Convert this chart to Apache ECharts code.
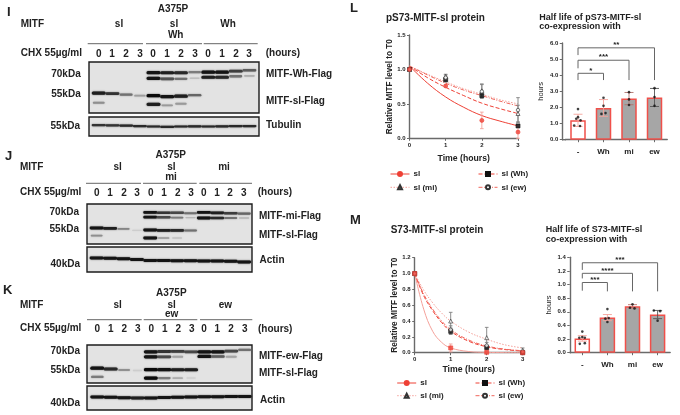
<!DOCTYPE html>
<html><head><meta charset="utf-8">
<style>html,body{margin:0;padding:0;background:#fff}#c{width:680px;height:415px}</style>
<script src="https://cdn.jsdelivr.net/npm/echarts@6/dist/echarts.min.js"></script>
</head><body><div id="c"></div>
<script>
// ---------- data: decay curves (hours, relative level) ----------
const seriesNames = ['sl', 'sl (Wh)', 'sl (mi)', 'sl (ew)'];
const timeTicks = [0, 1, 2, 3];
const curveTimes = [0, 0.5, 1, 1.5, 2, 2.5, 3];
const Lcurve_sl = [1.05, 0.80, 0.60, 0.45, 0.33, 0.25, 0.18];
const Lcurve_Wh = [1.05, 0.88, 0.74, 0.62, 0.51, 0.43, 0.36];
const Lcurve_mi = [1.05, 0.93, 0.82, 0.72, 0.64, 0.56, 0.50];
const Lcurve_ew = [1.05, 0.92, 0.80, 0.70, 0.62, 0.54, 0.47];
const Lpts_sl = [1.0, 0.76, 0.26, 0.09];
const Lpts_Wh = [1.0, 0.85, 0.62, 0.18];
const Lpts_mi = [1.0, 0.90, 0.69, 0.36];
const Lpts_ew = [1.0, 0.88, 0.68, 0.41];
const Lerr_sl = [0, 0.02, 0.12, 0.09];
const Lerr_Wh = [0, 0.03, 0.02, 0.02];
const Lerr_mi = [0, 0.03, 0.10, 0.12];
const Lerr_ew = [0, 0.04, 0.10, 0.18];

const Mtimes = [0, 0.25, 0.5, 0.75, 1, 1.5, 2, 2.5, 3];
const Mcurve_sl = [1, 0.55, 0.27, 0.13, 0.06, 0.015, 0.004, 0.001, 0];
const Mcurve_Wh = [1, 0.72, 0.53, 0.38, 0.27, 0.145, 0.075, 0.04, 0.02];
const Mcurve_mi = [1, 0.79, 0.63, 0.50, 0.40, 0.26, 0.17, 0.10, 0.06];
const Mcurve_ew = [1, 0.74, 0.55, 0.40, 0.29, 0.16, 0.085, 0.045, 0.025];
const Mpts_sl = [1.0, 0.06, 0.005, 0];
const Mpts_Wh = [1.0, 0.27, 0.065, 0];
const Mpts_mi = [1.0, 0.40, 0.19, 0.03];
const Mpts_ew = [1.0, 0.29, 0.09, 0.01];
const Merr_sl = [0, 0.05, 0.01, 0];
const Merr_Wh = [0, 0.04, 0.03, 0.01];
const Merr_mi = [0, 0.11, 0.13, 0.03];
const Merr_ew = [0, 0.05, 0.04, 0.02];

// ---------- data: half-life bars ----------
const barCats = ['-', 'Wh', 'mi', 'ew'];
const Lhalf = [1.2, 1.97, 2.55, 2.62];
const LhalfErr = [0.38, 0.52, 0.38, 0.56];
const LhalfDots = [[0,1.9],[0,1.4],[-0.07,1.3],[0.1,1.2],[-0.15,0.88],[0.08,0.85],[1,2.6],[1,2.1],[0.92,1.6],[1.08,1.65],[2,2.95],[2,2.5],[2,2.15],[3,3.2],[3,2.65],[3,2.1]];
const Mhalf = [0.21, 0.515, 0.68, 0.56];
const MhalfErr = [0.04, 0.045, 0.025, 0.06];
const MhalfDots = [[0,0.31],[0,0.23],[-0.12,0.22],[0.1,0.22],[0.1,0.14],[-0.1,0.13],[1,0.64],[1.05,0.51],[0.92,0.5],[1,0.45],[2,0.71],[1.9,0.66],[2.08,0.65],[2.85,0.62],[3.1,0.61],[3,0.47]];
const LerrColors = ['#f4a19a', '#f4a19a', '#b0706a', '#555'];
const MerrColors = ['#f4a19a', '#f4a19a', '#c0706a', '#555'];
// [target category, bracket top, left foot, right foot, stars]
const Lbrackets = [[1, 4.12, 3.7, 3.7, '*'], [2, 4.93, 4.43, 3.7, '***'], [3, 5.7, 5.25, 3.7, '**']];
const Mbrackets = [[1, 1.03, 0.91, 0.9, '***'], [2, 1.165, 1.09, 0.9, '****'], [3, 1.32, 1.215, 0.9, '***']];

// ---------- data: blot bands. Each row: migration (% of panel height) and strength per lane ----------
const laneHours = [0, 1, 2, 3, 0, 1, 2, 3, 0, 1, 2, 3];
const Iupper_mig = [20,20,20,20,21,21,21,20,20,20,18,16];
const Iupper = [0,0,0,0,.95,.9,.85,.45,.95,.95,.75,.6];
const Ilower_mig = [32,32,32,32,32,33,33,32,30,30,28,27];
const Ilower = [0,0,0,0,.95,.65,.5,.12,.9,.85,.5,.2];
const Isl_mig = [61,62,64,66,66,68,67,65,0,0,0,0];
const Isl = [.9,.8,.5,.28,1,.95,.9,.55,0,0,0,0];
const Isl2_mig = [80,80,80,80,83,85,82,82,0,0,0,0];
const Isl2 = [.35,0,0,0,.9,.3,.3,0,0,0,0,0];
const Itub_mig = [43,44,45,48,50,52,50,49,50,49,48,48];
const Itub = [.8,.8,.85,.85,.85,.85,.85,.85,.85,.85,.85,.85];

const Jupper_mig = [21,21,21,21,21,22,22,23,21,22,23,24];
const Jupper = [0,0,0,0,.95,.8,.7,.5,.95,.9,.75,.55];
const Jlower_mig = [33,33,33,33,33,33,34,34,35,35,35,35];
const Jlower = [0,0,0,0,.95,.7,.45,.15,.95,.85,.5,.15];
const Jsl_mig = [60,61,62,66,65,66,66,66,0,0,0,0];
const Jsl = [.95,.9,.4,.05,.95,.9,.85,.5,0,0,0,0];
const Jsl2_mig = [79,80,80,80,85,85,85,85,0,0,0,0];
const Jsl2 = [.35,0,0,0,.95,.3,.1,0,0,0,0,0];
const Jactin_mig = [44,45,47,50,54,54,55,55,56,56,57,60];
const Jactin = [.95,.95,.95,.95,.95,.95,.95,.95,.95,.95,.95,.95];

const Kupper_mig = [18,18,18,18,18,17,17,18,18,18,16,13];
const Kupper = [0,0,0,0,.95,.8,.75,.7,.95,.95,.7,.5];
const Klower_mig = [31,31,31,31,31,31,31,31,30,30,31,31];
const Klower = [0,0,0,0,.95,.7,.25,0,.95,.6,.25,0];
const Ksl_mig = [61,63,66,67,65,65,65,65,0,0,0,0];
const Ksl = [.95,.85,.35,.05,1,.95,.9,.9,0,0,0,0];
const Ksl2_mig = [84,84,84,84,87,87,87,87,0,0,0,0];
const Ksl2 = [.45,0,0,0,1,.45,.2,.03,0,0,0,0];
const Kactin_mig = [46,47,49,50,50,48,47,46,45,45,44,44];
const Kactin = [.95,.95,.95,.9,.95,.95,.95,.95,.95,.95,.95,.95];

// ---------- styles ----------
const FONT = '"Liberation Sans", Arial, sans-serif';
const RED = '#ee4035', LRED = '#f4a19a', INK = '#222', AX = '#6a6a6a';
const styleBySeries = [
  {type: 'solid', sym: 'circle', fill: RED, symC: RED, size: 4},
  {type: [4, 2], sym: 'rect', fill: '#111', symC: '#111', size: 4},
  {type: [1.5, 1.5], sym: 'triangle', fill: '#fff', symC: '#333', size: 4},
  {type: [4, 1.5, 1, 1.5], sym: 'circle', fill: '#fff', symC: '#333', size: 3.5}
];
const LlineColors = [RED, RED, LRED, '#f0665c'];
const MlineColors = [LRED, RED, LRED, '#f0665c'];
const grid = [], xAxis = [], yAxis = [], series = [], legend = [], graphic = [];

function T(text, x, y, o) {
  o = o || {};
  graphic.push({type: 'text', x, y, rotation: o.rot || 0, silent: true, style: {
    text, fill: o.fill || INK, align: o.align || 'left', verticalAlign: 'middle',
    font: (o.weight || 'bold') + ' ' + (o.size || 10) + 'px ' + FONT}});
}
function L(x1, y, x2) {
  graphic.push({type: 'line', silent: true, shape: {x1, y1: y, x2, y2: y}, style: {stroke: '#666', lineWidth: 1}});
}
const axisCommon = {
  axisLine: {show: true, onZero: false, lineStyle: {color: AX, width: 1.4}},
  axisTick: {show: true, length: 2.5, lineStyle: {color: AX, width: 1}},
  splitLine: {show: false}
};

function errorSeries(gi, rows, color, capPx) {
  return {type: 'custom', xAxisIndex: gi.x, yAxisIndex: gi.y, silent: true, z: 3, data: rows, clip: false,
    renderItem(p, api) {
      const a = api.coord([api.value(0), api.value(1)]), b = api.coord([api.value(0), api.value(2)]);
      const st = {stroke: color, lineWidth: 0.9, fill: null};
      return {type: 'group', children: [
        {type: 'line', shape: {x1: a[0], y1: a[1], x2: b[0], y2: b[1]}, style: st},
        {type: 'line', shape: {x1: a[0] - capPx, y1: a[1], x2: a[0] + capPx, y2: a[1]}, style: st},
        {type: 'line', shape: {x1: b[0] - capPx, y1: b[1], x2: b[0] + capPx, y2: b[1]}, style: st}
      ]};
    }};
}

function decayChart(box, maxY, intY, times, curves, pts, errs, nameGapY, nameGapX, lineColors, firstSym) {
  const gi = grid.length;
  grid.push({left: box[0], top: box[1], width: box[2], height: box[3], containLabel: false});
  xAxis.push(Object.assign({gridIndex: gi, type: 'value', min: 0, max: 3, interval: 1, name: 'Time (hours)',
    nameLocation: 'middle', nameGap: nameGapX, nameTextStyle: {fontFamily: FONT, fontWeight: 'bold', fontSize: 8.7, color: INK},
    axisLabel: {fontFamily: FONT, fontWeight: 'bold', fontSize: 6, color: INK, margin: 4}}, axisCommon));
  yAxis.push(Object.assign({gridIndex: gi, type: 'value', min: 0, max: maxY, interval: intY, name: 'Relative MITF level to T0',
    nameLocation: 'middle', nameGap: nameGapY, nameTextStyle: {fontFamily: FONT, fontWeight: 'bold', fontSize: 8.2, color: INK},
    axisLabel: {fontFamily: FONT, fontWeight: 'bold', fontSize: 6, color: INK, margin: 4, formatter: v => v.toFixed(1)}}, axisCommon));
  const ax = {x: xAxis.length - 1, y: yAxis.length - 1};
  seriesNames.forEach((n, i) => {
    const s = styleBySeries[i];
    series.push({type: 'line', name: n, xAxisIndex: ax.x, yAxisIndex: ax.y, smooth: 0.4, showSymbol: false,
      symbol: s.sym, symbolSize: s.size, silent: true, z: 2,
      lineStyle: {color: lineColors[i], width: 1, type: s.type},
      itemStyle: {color: s.fill, borderColor: s.symC, borderWidth: 0.8},
      data: times.map((t, k) => [t, curves[i][k]])});
  });
  seriesNames.forEach((n, i) => {
    series.push(errorSeries(ax, timeTicks.map((t, k) => [t, pts[i][k] - errs[i][k], pts[i][k] + errs[i][k]]),
      i === 0 ? LRED : '#808080', 1.8));
  });
  seriesNames.forEach((n, i) => {
    const s = styleBySeries[i];
    series.push({type: 'scatter', xAxisIndex: ax.x, yAxisIndex: ax.y, symbol: i === 0 ? firstSym : s.sym, symbolSize: s.size, silent: true,
      z: i === 0 ? 6 : 4, clip: false,
      itemStyle: {color: s.fill, borderColor: s.symC, borderWidth: 0.8},
      data: timeTicks.map((t, k) => [t, pts[i][k]])});
  });
}

function halfLifeChart(box, maxY, intY, vals, errs, dots, brackets, yOffset, nameGapY, labelMargin, errColors) {
  const gi = grid.length;
  grid.push({left: box[0], top: box[1], width: box[2], height: box[3], containLabel: false});
  xAxis.push(Object.assign({gridIndex: gi, type: 'category', data: barCats,
    axisLabel: {fontFamily: FONT, fontWeight: 'bold', fontSize: 8, color: INK, margin: labelMargin}}, axisCommon,
    {axisTick: {show: true, alignWithLabel: true, length: 2.5, lineStyle: {color: AX, width: 1}}}));
  const xCat = xAxis.length - 1;
  xAxis.push({gridIndex: gi, type: 'value', min: -0.5, max: 3.5, show: false});
  const xVal = xAxis.length - 1;
  yAxis.push(Object.assign({gridIndex: gi, type: 'value', min: 0, max: maxY, interval: intY, offset: yOffset, name: 'hours',
    nameLocation: 'middle', nameGap: nameGapY, nameTextStyle: {fontFamily: FONT, fontWeight: 'normal', fontSize: 7.5, color: INK},
    axisLabel: {fontFamily: FONT, fontWeight: 'bold', fontSize: 6, color: INK, margin: 4, formatter: v => v.toFixed(1)}}, axisCommon));
  const yI = yAxis.length - 1;
  series.push({type: 'bar', xAxisIndex: xCat, yAxisIndex: yI, barWidth: 15.5, silent: true, z: 2,
    data: vals.map((v, i) => ({value: v, itemStyle: {color: i === 0 ? '#fff' : '#a6a6a6', borderColor: '#f0504a', borderWidth: 1.5}}))});
  vals.forEach((v, i) => series.push(errorSeries({x: xVal, y: yI}, [[i, v - errs[i], v + errs[i]]], errColors[i], 4.5)));
  series.push({type: 'scatter', xAxisIndex: xVal, yAxisIndex: yI, symbol: 'circle', symbolSize: 2.6, silent: true, z: 4,
    itemStyle: {color: '#111'}, data: dots});
  series.push({type: 'custom', xAxisIndex: xVal, yAxisIndex: yI, silent: true, z: 5, clip: false, data: brackets,
    encode: {x: 0, y: 1},
    renderItem(p, api) {
      const b = brackets[p.dataIndex];
      const l = api.coord([0, b[2]]), tl = api.coord([0, b[1]]), tr = api.coord([b[0], b[1]]), r = api.coord([b[0], b[3]]);
      const mid = api.coord([b[0] / 2, b[1]]);
      return {type: 'group', children: [
        {type: 'polyline', shape: {points: [l, tl, tr, r]}, style: {stroke: '#666', lineWidth: 1, fill: null}},
        {type: 'text', style: {x: mid[0], y: mid[1] - 3, text: b[4], align: 'center', verticalAlign: 'middle',
          font: 'bold 8px ' + FONT, fill: INK}}
      ]};
    }});
}

function blot(box, rows, bandH) {
  // box = [left, top, width, height, laneMin, laneMax]
  const gi = grid.length;
  grid.push({left: box[0], top: box[1], width: box[2], height: box[3], show: true,
    backgroundColor: '#e3e3e3', borderColor: '#1c1c1c', borderWidth: 1.4, z: 1});
  xAxis.push({gridIndex: gi, type: 'value', min: box[4], max: box[5], show: false});
  yAxis.push({gridIndex: gi, type: 'value', min: 0, max: 100, inverse: true, show: false});
  const data = [];
  rows.forEach(r => r[1].forEach((s, lane) => { if (s > 0) data.push([lane, r[0][lane], s]); }));
  series.push({type: 'custom', xAxisIndex: xAxis.length - 1, yAxisIndex: yAxis.length - 1, silent: true, z: 3, data,
    renderItem(p, api) {
      const c = api.coord([api.value(0), api.value(1)]), s = api.value(2);
      const g = Math.round(215 - 205 * s), w = 9 + 5 * Math.min(1, s * 1.6), h = bandH * (0.45 + 0.65 * s);
      return {type: 'rect', shape: {x: c[0] - w / 2, y: c[1] - h / 2, width: w, height: h, r: h / 2},
        style: {fill: `rgb(${g},${g},${g})`, shadowBlur: 1.5, shadowColor: `rgba(${g},${g},${g},0.8)`}};
    }});
}

// ---------- western blots ----------
blot([89, 62, 170, 51, -0.71, 11.7], [[Iupper_mig, Iupper], [Ilower_mig, Ilower], [Isl_mig, Isl], [Isl2_mig, Isl2]], 3);
blot([89, 117, 170, 19, -0.71, 11.7], [[Itub_mig, Itub]], 2.2);
blot([87, 204, 165, 40, -0.72, 11.59], [[Jupper_mig, Jupper], [Jlower_mig, Jlower], [Jsl_mig, Jsl], [Jsl2_mig, Jsl2]], 2.6);
blot([87, 247, 165, 25, -0.72, 11.59], [[Jactin_mig, Jactin]], 2.8);
blot([87, 345, 165, 38, -0.77, 11.55], [[Kupper_mig, Kupper], [Klower_mig, Klower], [Ksl_mig, Ksl], [Ksl2_mig, Ksl2]], 3);
blot([87, 386, 165, 24, -0.77, 11.55], [[Kactin_mig, Kactin]], 2.8);

// ---------- charts ----------
decayChart([409.5, 35, 108.5, 103.3], 1.5, 0.5, curveTimes, [Lcurve_sl, Lcurve_Wh, Lcurve_mi, Lcurve_ew],
  [Lpts_sl, Lpts_Wh, Lpts_mi, Lpts_ew], [Lerr_sl, Lerr_Wh, Lerr_mi, Lerr_ew], 14, 16, LlineColors, 'circle');
decayChart([414.7, 257.7, 108, 95], 1.2, 0.2, Mtimes, [Mcurve_sl, Mcurve_Wh, Mcurve_mi, Mcurve_ew],
  [Mpts_sl, Mpts_Wh, Mpts_mi, Mpts_ew], [Merr_sl, Merr_Wh, Merr_mi, Merr_ew], 14, 12, MlineColors, 'rect');
halfLifeChart([565.25, 43, 102, 96.7], 6, 1, Lhalf, LhalfErr, LhalfDots, Lbrackets, 3, 17, 8, LerrColors);
halfLifeChart([569.75, 257.3, 100.4, 95.4], 1.4, 0.2, Mhalf, MhalfErr, MhalfDots, Mbrackets, 0, 17, 8, MerrColors);

// ---------- legends ----------
function leg(name, x, y) {
  legend.push({show: true, data: [name], left: x, top: y - 5, orient: 'horizontal', itemWidth: 19, itemHeight: 5, padding: 0,
    selectedMode: false, lineStyle: {width: 1},
    textStyle: {fontFamily: FONT, fontWeight: 'bold', fontSize: 8, color: INK, padding: [0, 0, 0, -1]}});
}
leg('sl', 390, 175); leg('sl (Wh)', 478, 175); leg('sl (mi)', 390, 188.3); leg('sl (ew)', 478, 188.3);
leg('sl', 396.7, 384); leg('sl (Wh)', 475, 384); leg('sl (mi)', 396.7, 396.7); leg('sl (ew)', 475, 396.7);

// ---------- text ----------
T('I', 7, 12, {size: 13}); T('J', 5, 156, {size: 13}); T('K', 3, 290, {size: 13});
T('L', 350, 8, {size: 13}); T('M', 350, 220, {size: 13});

function laneLabels(y, xs) { laneHours.forEach((h, i) => T(String(h), xs[i], y, {align: 'center'})); }
const C = {align: 'center'}, R = {align: 'right'};
// I
T('A375P', 173, 9.5, C); T('MITF', 20.7, 24); T('sl', 119, 24, C); T('sl', 174, 24, C); T('Wh', 175.7, 35, C); T('Wh', 228, 24, C);
L(87.7, 43.7, 143); L(146, 43.7, 202); L(203.7, 43.7, 257.7);
T('CHX 55µg/ml', 20.7, 53.3); T('(hours)', 265.7, 53);
laneLabels(54, [98.7,112,126,140,153,167,181,195,208,222,236,249]);
T('70kDa', 80.7, 74.7, R); T('55kDa', 80.7, 94.3, R); T('55kDa', 80, 126, R);
T('MITF-Wh-Flag', 266, 74.7); T('MITF-sl-Flag', 266, 101); T('Tubulin', 266, 125.7);
// J
T('A375P', 170.7, 155.7, C); T('MITF', 20, 167.3); T('sl', 117.7, 167, C); T('sl', 171.3, 167, C); T('mi', 171, 177.7, C); T('mi', 224, 167, C);
L(86, 183.3, 141); L(143, 183.3, 196.7); L(199.3, 183.3, 252);
T('CHX 55µg/ml', 20, 192.3); T('(hours)', 257.7, 192.7);
laneLabels(193.3, [96.7,110,124,137,150.7,164,177.7,191,203.7,217,230,243.7]);
T('70kDa', 79, 212, R); T('55kDa', 79, 229, R); T('40kDa', 80, 264.3, R);
T('MITF-mi-Flag', 259, 216); T('MITF-sl-Flag', 259, 235); T('Actin', 259.5, 260.7);
// K
T('A375P', 171.3, 293.3, C); T('MITF', 20, 305); T('sl', 117.7, 305, C); T('sl', 171.7, 305, C); T('ew', 171.7, 314.3, C); T('ew', 225.3, 305, C);
L(87, 319.7, 141.7); L(143.7, 319.7, 197.3); L(200, 319.7, 252.3);
T('CHX 55µg/ml', 20, 328.7); T('(hours)', 258, 329);
laneLabels(329.6, [97.3,110.7,124.3,137.7,151.3,164.7,178.3,191.7,204,217.3,231,244.7]);
T('70kDa', 80, 351, R); T('55kDa', 80, 370.7, R); T('40kDa', 80, 403.3, R);
T('MITF-ew-Flag', 259, 356.3); T('MITF-sl-Flag', 259, 373.7); T('Actin', 260, 400.7);
// L / M titles
T('pS73-MITF-sl protein', 386, 18.3);
T('Half life of pS73-MITF-sl', 539.3, 17.3, {size: 9}); T('co-expression with', 539.3, 26.7, {size: 9});
T('S73-MITF-sl protein', 390.7, 230);
T('Half life of S73-MITF-sl', 545.7, 230, {size: 9}); T('co-expression with', 545.7, 240, {size: 9});
// short piece of the x axis between y axis and first band
graphic.push({type: 'line', silent: true, shape: {x1: 562, y1: 139.7, x2: 566, y2: 139.7}, style: {stroke: AX, lineWidth: 1.4}});

const chart = echarts.init(document.getElementById('c'), null, {renderer: 'canvas'});
chart.setOption({animation: false, backgroundColor: '#fff', tooltip: {show: false},
  grid, xAxis, yAxis, series, legend, graphic});
</script></body></html>
